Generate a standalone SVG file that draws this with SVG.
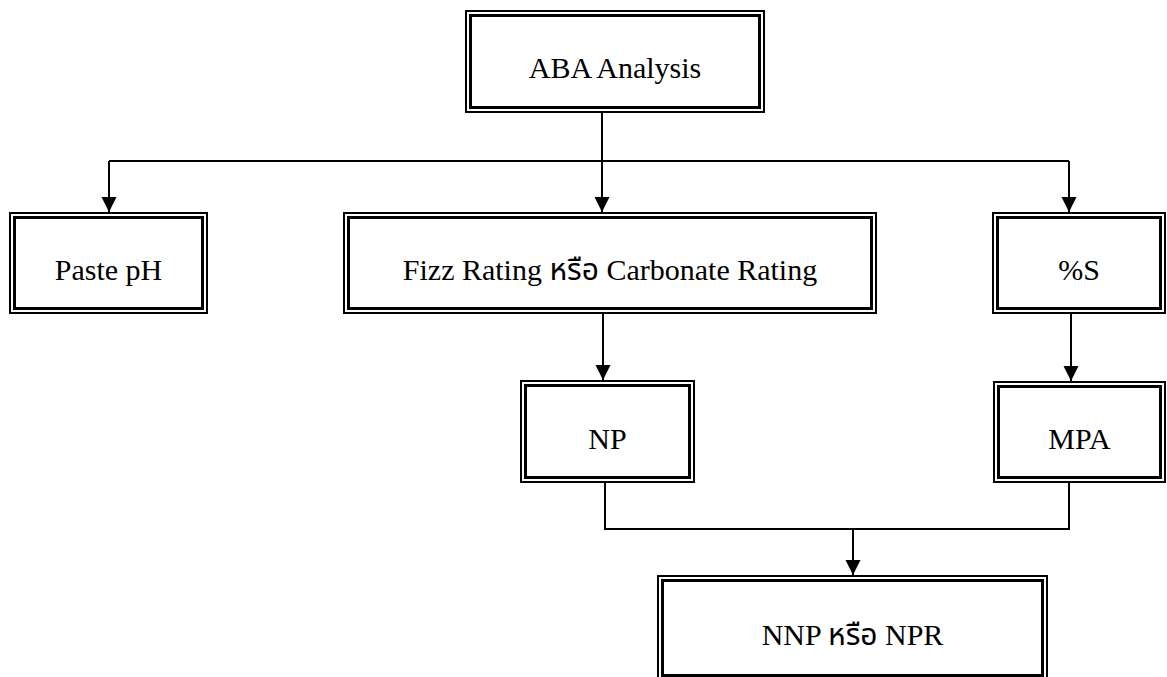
<svg xmlns="http://www.w3.org/2000/svg" width="1167" height="677" viewBox="0 0 1167 677">
<style>
.o{fill:#fff;stroke:#000;stroke-width:2}
.i{fill:none;stroke:#000;stroke-width:3}
.t{font-family:"Liberation Serif","Times New Roman","Noto Sans Thai","Noto Serif Thai","DejaVu Serif","Noto Sans",serif;font-size:30px;fill:#000;text-anchor:middle}
.c{fill:none;stroke:#000;stroke-width:2}
</style>
<defs>
<marker id="arr" markerUnits="userSpaceOnUse" markerWidth="16" markerHeight="16" viewBox="0 0 16 16" refX="15" refY="8" orient="auto">
<path d="M0,0.5 L15,8 L0,15.5 Z" fill="#000"/>
</marker>
</defs>
<rect width="1167" height="677" fill="#fff"/>
<g id="connectors">
<path class="c" d="M602,113 V161"/>
<path class="c" d="M109,161 H1069"/>
<path class="c" d="M109,161 V212" marker-end="url(#arr)"/>
<path class="c" d="M602,161 V212" marker-end="url(#arr)"/>
<path class="c" d="M1069,161 V212" marker-end="url(#arr)"/>
<path class="c" d="M603,314 V380" marker-end="url(#arr)"/>
<path class="c" d="M1071,314 V381" marker-end="url(#arr)"/>
<path class="c" d="M605,483 V529 H1069 V483"/>
<path class="c" d="M853,529 V575" marker-end="url(#arr)"/>
</g>
<g id="aba">
<rect class="o" x="466" y="11" width="298" height="101"/>
<rect class="i" x="470.5" y="15.5" width="289" height="92"/>
<text class="t" x="615" y="78">ABA Analysis</text>
</g>
<g id="paste-ph">
<rect class="o" x="10" y="213" width="197" height="100"/>
<rect class="i" x="14.5" y="217.5" width="188" height="91"/>
<text class="t" x="108.5" y="280">Paste pH</text>
</g>
<g id="fizz">
<rect class="o" x="344" y="213" width="532" height="100"/>
<rect class="i" x="348.5" y="217.5" width="523" height="91"/>
<text class="t" x="610" y="280">Fizz Rating หรือ Carbonate Rating</text>
</g>
<g id="sulfur">
<rect class="o" x="993" y="213" width="172" height="100"/>
<rect class="i" x="997.5" y="217.5" width="163" height="91"/>
<text class="t" x="1079" y="280">%S</text>
</g>
<g id="np">
<rect class="o" x="521" y="381" width="173" height="101"/>
<rect class="i" x="525.5" y="385.5" width="164" height="92"/>
<text class="t" x="607.5" y="449">NP</text>
</g>
<g id="mpa">
<rect class="o" x="994" y="382" width="171" height="100"/>
<rect class="i" x="998.5" y="386.5" width="162" height="91"/>
<text class="t" x="1079.5" y="449">MPA</text>
</g>
<g id="nnp">
<rect class="o" x="658" y="576" width="389" height="104"/>
<rect class="i" x="662.5" y="580.5" width="380" height="95"/>
<text class="t" x="852.5" y="645">NNP หรือ NPR</text>
</g>
</svg>
